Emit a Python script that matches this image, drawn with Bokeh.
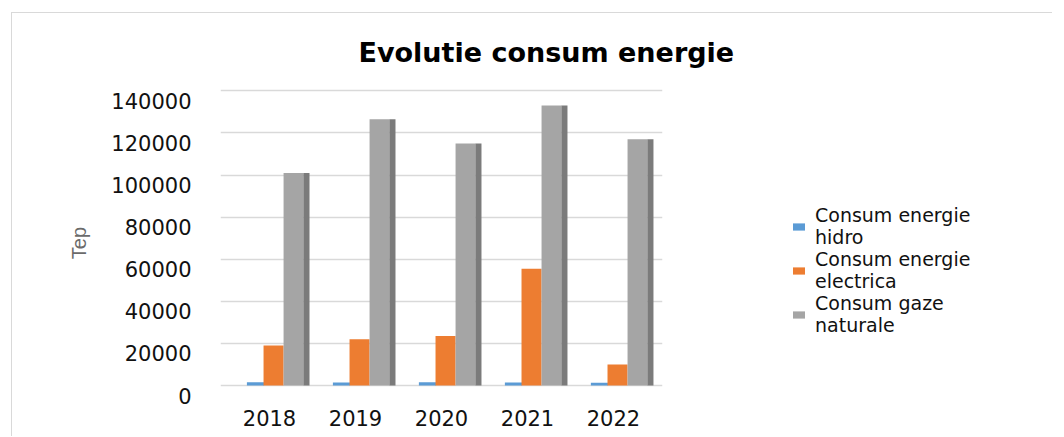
from bokeh.plotting import figure
from bokeh.layouts import row
from bokeh.models import (FactorRange, Range1d, LinearAxis, SingleIntervalTicker,
                          Legend, LegendItem, ColumnDataSource, NumeralTickFormatter)
from bokeh.transform import dodge
from bokeh.embed import file_html
from bokeh.resources import INLINE

# ---- data ----
years = ["2018", "2019", "2020", "2021", "2022"]
hidro = [1500, 1400, 1500, 1400, 1300]
electrica = [19000, 22000, 23500, 55500, 10000]
gaze = [101000, 126500, 115000, 133000, 117000]
series_names = ["Consum energie\nhidro", "Consum energie\nelectrica", "Consum gaze\nnaturale"]
series_fields = ["hidro", "electrica", "gaze"]
series_colors = ["#5b9bd5", "#ed7d31", "#a5a5a5"]
title_text = "Evolutie consum energie"
y_label = "Tep"

src = ColumnDataSource(dict(year=years, hidro=hidro, electrica=electrica, gaze=gaze))

FONT = "DejaVu Sans"
H = 423
W1 = 740
W2 = 300

p = figure(width=W1, height=H, output_backend="svg", toolbar_location=None,
           x_range=FactorRange(*years, range_padding=0.07, range_padding_units="absolute"),
           y_range=Range1d(-5700, 141100), y_axis_location=None,
           min_border_left=208, min_border_right=W1 - 650, min_border_top=75,
           min_border_bottom=H - 384, title=title_text)
p.outline_line_color = None
p.background_fill_color = "white"
p.border_fill_color = "white"
p.xgrid.visible = False
p.ygrid.ticker = SingleIntervalTicker(interval=20000)
p.ygrid.grid_line_color = "#d9d9d9"
p.ygrid.grid_line_width = 1.5

p.title.align = "left"
p.title.offset = 138
p.title.standoff = 42
p.title.text_font = FONT
p.title.text_font_style = "bold"
p.title.text_font_size = "27px"
p.title.text_color = "#000000"

# label axis (labels sit slightly below the back-wall gridlines, as in a 3-D chart)
p.extra_y_ranges = {"lab": Range1d(-950, 145850)}
yax = LinearAxis(y_range_name="lab", ticker=SingleIntervalTicker(interval=20000),
                 formatter=NumeralTickFormatter(format="0"))
yax.axis_line_color = None
yax.major_tick_line_color = None
yax.minor_tick_line_color = None
yax.major_label_standoff = 23
yax.major_label_text_font = FONT
yax.major_label_text_font_size = "21px"
yax.major_label_text_color = "#111111"
yax.axis_label = y_label
yax.axis_label_text_font = "Liberation Sans"
yax.axis_label_text_font_style = "normal"
yax.axis_label_text_font_size = "20px"
yax.axis_label_text_color = "#6b6b6b"
yax.axis_label_standoff = 18
p.add_layout(yax, "left")

xax = p.xaxis[0]
xax.axis_line_color = None
xax.major_tick_line_color = None
xax.minor_tick_line_color = None
xax.major_label_standoff = 6
xax.major_label_text_font = FONT
xax.major_label_text_font_size = "21px"
xax.major_label_text_color = "#111111"

p.vbar(x=dodge("year", -0.163, range=p.x_range), top="hidro", bottom=0, width=0.2,
       source=src, fill_color=series_colors[0], line_color=None)
p.vbar(x=dodge("year", 0.047, range=p.x_range), top="electrica", bottom=0, width=0.233,
       source=src, fill_color=series_colors[1], line_color=None)
p.vbar(x=dodge("year", 0.28, range=p.x_range), top="gaze", bottom=0, width=0.233,
       source=src, fill_color=series_colors[2], line_color=None)
p.vbar(x=dodge("year", 0.43, range=p.x_range), top="gaze", bottom=0, width=0.07,
       source=src, fill_color="#7b7b7b", line_color=None)

# ---- legend panel (same series, not drawn; only their legend swatches show) ----
p2 = figure(width=W2, height=H, output_backend="svg", toolbar_location=None,
            x_range=FactorRange(*years), y_range=Range1d(-2e7, -1e7),
            x_axis_location=None, y_axis_location=None,
            min_border_left=0, min_border_right=0, min_border_top=0, min_border_bottom=0)
p2.outline_line_color = None
p2.grid.visible = False
p2.background_fill_color = "white"
p2.border_fill_color = "white"
swatches = [p2.vbar(x="year", top=f, bottom=0, width=0.2, source=src,
                    fill_color=c, line_color=None, visible=False)
            for f, c in zip(series_fields, series_colors)]

legend = Legend(items=[LegendItem(label=n, renderers=[r]) for n, r in zip(series_names, swatches)],
                location=(791 - (12 + W1), 61))
legend.label_text_font = FONT
legend.label_text_font_size = "19px"
legend.label_text_color = "#111111"
legend.glyph_width = 15
legend.glyph_height = 9
legend.label_standoff = 9
legend.spacing = 0
legend.padding = 0
legend.margin = 0
legend.border_line_color = None
legend.background_fill_alpha = 0
p2.add_layout(legend, "center")

layout = row(p, p2)
layout.margin = (12, 0, 0, 11)
layout.styles = {"border-left": "1px solid #d9d9d9", "border-top": "1px solid #d9d9d9"}

open("out.html", "w").write(file_html(layout, INLINE))
